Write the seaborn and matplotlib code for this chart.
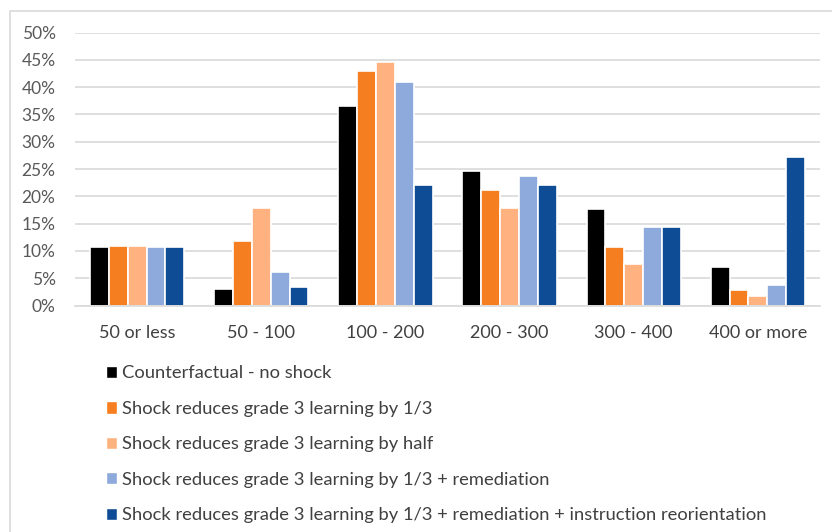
import matplotlib
matplotlib.use("Agg")
import matplotlib.pyplot as plt
import matplotlib.patches as mpatches
import seaborn as sns
import pandas as pd
from matplotlib.ticker import PercentFormatter

categories = ["50 or less", "50 - 100", "100 - 200", "200 - 300", "300 - 400", "400 or more"]
series_names = [
    "Counterfactual - no shock",
    "Shock reduces grade 3 learning by 1/3",
    "Shock reduces grade 3 learning by half",
    "Shock reduces grade 3 learning by 1/3 + remediation",
    "Shock reduces grade 3 learning by 1/3 + remediation + instruction reorientation",
]
no_shock = [10.8, 3.1, 36.6, 24.7, 17.6, 7.0]
shock_third = [10.9, 11.9, 42.9, 21.2, 10.7, 2.8]
shock_half = [10.9, 17.8, 44.6, 17.9, 7.6, 1.7]
shock_remed = [10.8, 6.1, 40.9, 23.7, 14.4, 3.8]
shock_remed_reorient = [10.8, 3.3, 22.0, 22.0, 14.4, 27.2]
colors = ["#000000", "#F47E20", "#FFB27F", "#8EA9DB", "#0E4C96"]

values = [no_shock, shock_third, shock_half, shock_remed, shock_remed_reorient]
rows = []
for name, vals in zip(series_names, values):
    for cat, v in zip(categories, vals):
        rows.append({"category": cat, "series": name, "value": v})
df = pd.DataFrame(rows)

sns.set_theme(style="white")
plt.rcParams["font.family"] = ["Lato", "DejaVu Sans"]

fig = plt.figure(figsize=(8.32, 5.32), dpi=100)
ax = fig.add_axes([75 / 832, 1 - 305.5 / 532, 745 / 832, 273 / 532])

sns.barplot(data=df, x="category", y="value", hue="series", order=categories,
            hue_order=series_names, palette=colors, width=0.76, gap=0.0,
            edgecolor="white", linewidth=1.2, saturation=1, legend=False, ax=ax)

ax.set_ylim(0, 50)
ax.set_yticks(range(0, 51, 5))
ax.yaxis.set_major_formatter(PercentFormatter(decimals=0))
ax.grid(axis="y", color="#d9d9d9", linewidth=1.2)
ax.set_axisbelow(True)
for s in ["top", "right", "left"]:
    ax.spines[s].set_visible(False)
ax.spines["bottom"].set_color("#d9d9d9")
ax.spines["bottom"].set_linewidth(1.2)
ax.tick_params(axis="y", labelsize=12.5, colors="#595959", length=0, pad=14)
ax.tick_params(axis="x", labelsize=13, colors="#404040", length=0, pad=14)
ax.set_xlabel("")
ax.set_ylabel("")

handles = [mpatches.Patch(facecolor=c, edgecolor="white") for c in colors]
fig.legend(handles, series_names, loc="upper left", bbox_to_anchor=(89 / 832, 1 - 349 / 532),
           frameon=False, fontsize=13.2, labelspacing=1.06, handlelength=0.6,
           handleheight=0.65, handletextpad=0.28, labelcolor="#404040")

# chart area border
fig.patches.append(mpatches.Rectangle((10 / 832, -0.05), 1.1, 1 - 11 / 532 + 0.05,
                                      transform=fig.transFigure, fill=False,
                                      edgecolor="#d9d9d9", linewidth=1.2))

fig.savefig("out.png", dpi=100)
